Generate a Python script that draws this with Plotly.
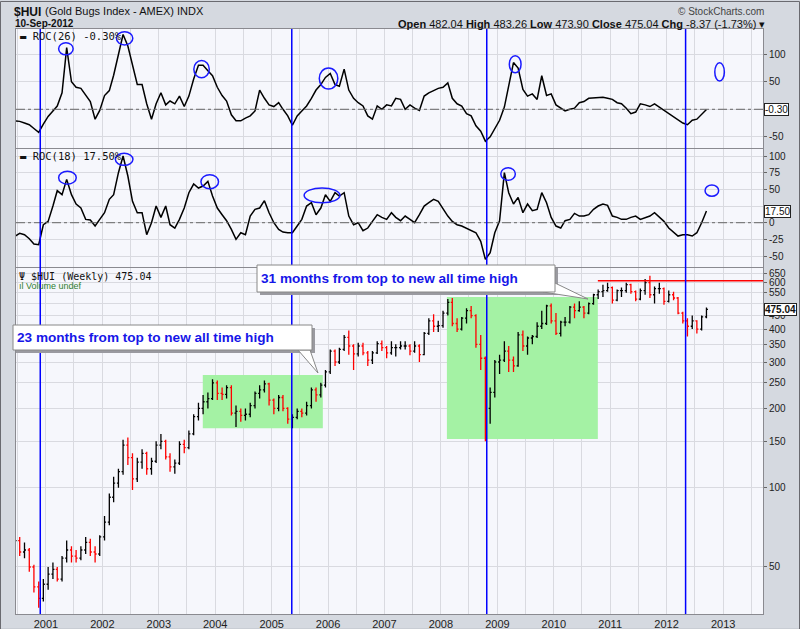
import pandas as pd
import numpy as np
import plotly.graph_objects as go
from plotly.subplots import make_subplots

# ---------------- data (monthly, Jun-2000 .. Sep-2012) ----------------
months = pd.date_range("2000-06-01", periods=148, freq="MS") + pd.Timedelta(days=14)

hui_open = [60, 63, 57, 58, 50, 42, 38,
            43, 47, 49, 45, 54, 58, 55, 54, 58, 62, 57, 56,
            65, 74, 92, 104, 115, 145, 130, 108, 125, 135, 118, 126,
            145, 150, 131, 120, 124, 146, 142, 160, 186, 200, 212, 218,
            250, 228, 226, 240, 192, 195, 188, 190, 205, 228, 235, 248,
            215, 200, 220, 200, 182, 185, 195, 192, 205, 235, 225, 245,
            275, 330, 300, 335, 372, 345, 322, 345, 325, 305, 325, 352,
            340, 325, 340, 340, 345, 345, 330, 345, 320, 385, 430, 410,
            412, 460, 505, 420, 400, 440, 470, 450, 350, 310, 200, 230,
            300, 305, 330, 305, 290, 380, 345, 370, 375, 410, 420, 490,
            430, 385, 425, 425, 485, 470, 485, 460, 500, 540, 555, 560,
            575, 515, 560, 560, 590, 555, 520, 560, 600, 540, 570, 570,
            510, 540, 525, 460, 430, 410, 430, 400, 445]
hui_high = [66, 65, 62, 59, 51, 44, 45,
            50, 52, 50, 55, 63, 60, 58, 60, 65, 64, 60, 66,
            78, 95, 110, 118, 152, 155, 135, 130, 140, 137, 130, 150,
            160, 152, 135, 128, 150, 152, 165, 190, 210, 225, 230, 258,
            255, 240, 245, 245, 205, 200, 200, 210, 232, 245, 255, 250,
            218, 225, 225, 202, 190, 200, 200, 212, 240, 240, 250, 280,
            335, 335, 340, 380, 395, 350, 355, 355, 330, 330, 360, 362,
            345, 360, 350, 360, 360, 350, 360, 350, 390, 440, 455, 430,
            470, 520, 525, 440, 445, 480, 490, 455, 380, 315, 240, 305,
            320, 360, 345, 315, 390, 395, 375, 380, 425, 470, 495, 500,
            460, 430, 445, 490, 500, 510, 490, 505, 545, 565, 590, 600,
            580, 565, 575, 600, 595, 560, 570, 620, 638, 580, 600, 575,
            560, 555, 530, 465, 440, 450, 432, 450, 483.26]
hui_low = [57, 55, 54, 48, 40, 35, 37,
           41, 45, 44, 44, 52, 52, 52, 53, 56, 55, 52, 55,
           63, 72, 88, 100, 112, 122, 98, 105, 118, 112, 112, 124,
           140, 128, 115, 113, 122, 135, 140, 158, 180, 190, 200, 215,
           215, 215, 218, 188, 170, 178, 180, 185, 200, 218, 230, 205,
           190, 195, 195, 175, 168, 182, 185, 188, 200, 212, 220, 240,
           270, 290, 295, 330, 320, 280, 315, 318, 290, 295, 322, 330,
           310, 320, 315, 335, 335, 318, 325, 300, 318, 380, 390, 390,
           405, 450, 410, 390, 395, 420, 440, 340, 280, 150, 175, 220,
           270, 300, 275, 275, 288, 330, 320, 350, 370, 400, 415, 420,
           380, 375, 410, 420, 440, 465, 440, 455, 495, 520, 530, 555,
           500, 510, 530, 550, 545, 510, 515, 540, 525, 500, 545, 495,
           505, 515, 455, 420, 375, 400, 385, 395, 440]
hui_close = [63, 57, 58, 50, 42, 38, 43,
             47, 49, 45, 54, 58, 55, 54, 58, 62, 57, 56, 65,
             74, 92, 104, 115, 145, 130, 108, 125, 135, 118, 126, 145,
             150, 131, 120, 124, 146, 142, 160, 186, 200, 212, 218, 250,
             228, 226, 240, 192, 195, 188, 190, 205, 228, 235, 248, 215,
             200, 220, 200, 182, 185, 195, 192, 205, 235, 225, 245, 275,
             330, 300, 335, 372, 345, 322, 345, 325, 305, 325, 352, 340,
             325, 340, 340, 345, 345, 330, 345, 320, 385, 430, 410, 412,
             460, 505, 420, 400, 440, 470, 450, 350, 310, 200, 230, 300,
             305, 330, 305, 290, 380, 345, 370, 375, 410, 420, 490, 430,
             385, 425, 425, 485, 470, 485, 460, 500, 540, 555, 560, 575,
             515, 560, 560, 590, 555, 520, 560, 600, 540, 570, 570, 510,
             540, 525, 460, 430, 410, 430, 400, 445, 475.04]

roc26 = [-21, -22, -25, -28, -35, -42, -27,
         -13, -3, 6, 30, 112, 50, 40, 38, 26, 14, -18, -2,
         25, 34, 62, 100, 136, 115, 82, 45, 45, 10, -18, 10,
         30, 8, 15, 10, 24, 5, 24, 55, 80, 80, 70, 61,
         40, 25, 15, -10, -21, -21, -16, -12, -3, 35, 20, 8,
         5, 12, 0, -12, -29, -12, -3, 6, 20, 35, 45, 58,
         65, 45, 42, 73, 35, 20, 12, 6, -12, -18, 6, 0,
         8, 6, 20, 18, 0, 8, 2, -2, 24, 30, 34, 38,
         40, 48, 20, 10, 6, -8, -12, -30, -40, -58, -50, -36,
         -20, 4, 40, 85, 75, 36, 24, 28, 18, 61, 25, 28,
         8, 2, -3, 0, 2, 12, 14, 20, 21, 21, 22, 20,
         18, 12, 10, 2, -8, -5, 10, 8, 5, 10, 4, -2,
         -8, -14, -18, -25, -28, -20, -18, -10, -0.3]
roc18 = [-20, -16, -18, -24, -32, -33, -3,
         2, 25, 48, 42, 65, 42, 28, 22, 5, 4, -5, 5,
         15, 35, 42, 75, 100, 70, 32, 15, 15, -18, 0, 25,
         8, 25, -3, -8, 5, 22, 45, 58, 52, 55, 62, 40,
         22, 12, 3, -10, -25, -15, -18, 10, 20, 22, 33, 15,
         0, -10, -14, -15, -15, -5, 5, 25, 30, 12, 22, 42,
         32, 45, 40, 45, 10, -3, 0, -12, -8, 2, 12, 8,
         5, 15, 8, 3, 10, 5, 0, 12, 25, 30, 35, 32,
         20, 10, 2, -3, -5, -8, -12, -15, -28, -55, -45, -15,
         3, 75, 45, 28, 38, 15, 28, 18, 20, 45, 30, 8,
         -5, -8, 3, 5, 14, 10, 10, 12, 20, 25, 28, 26,
         10, 8, 5, 5, 8, 10, 5, 8, 10, 15, 8, 2,
         -8, -14, -20, -18, -18, -20, -15, 0, 17.5]

year_ticks = [f"{y}-01-01" for y in range(2001, 2014)]
year_labels = [str(y) for y in range(2001, 2014)]
half_ticks = [f"{y}-07-01" for y in range(2000, 2014)]

blue_lines = ["2000-11-25", "2005-05-11", "2008-10-24", "2012-05-03"]

# (center date, half width days, center value, half height)
ellipses26 = [("2001-05-10", 47, 110, 11), ("2002-05-25", 53, 129, 12),
              ("2003-10-05", 50, 73, 15.5), ("2006-01-04", 60, 56, 19),
              ("2009-04-26", 38, 82, 15.5), ("2012-12-09", 31, 68, 16.5)]
ellipses18 = [("2001-05-20", 57, 67.5, 9.7), ("2002-05-22", 57, 95, 9),
              ("2003-11-27", 57, 61.5, 10.5), ("2005-11-23", 116, 41, 11.2),
              ("2009-03-11", 47, 73, 9.5), ("2012-10-20", 44, 48, 8.5)]

green_boxes = [("2003-10-13", "2005-11-28", 168, 268),
               ("2008-02-09", "2010-10-13", 153, 530)]
ath_line = ("2010-10-13", "2013-09-16", 610)

X_RANGE = ["2000-06-21", "2013-09-16"]

# ---------------- layout helpers (reference pixel -> paper) ----------------
VS = 642 / 629            # vertical page scale of the capture
W, H = 800, round(629 * VS)
PL, PR, PT, PB = 16, 763, 28, 613          # plot area in reference pixels
L, R = PL, W - PR
T, B = PT * VS, H - PB * VS
PW, PH = PR - PL, PB - PT


def pxx(x):
    return (x - PL) / PW


def pyy(y):
    return (PB - y) / PH


fig = make_subplots(rows=3, cols=1, shared_xaxes=True, vertical_spacing=0.003,
                    row_heights=[119, 118, 346])

fig.add_trace(go.Scatter(x=months, y=roc26, mode="lines",
                         line=dict(color="black", width=1.5), hoverinfo="skip"),
              row=1, col=1)
fig.add_trace(go.Scatter(x=months, y=roc18, mode="lines",
                         line=dict(color="black", width=1.5), hoverinfo="skip"),
              row=2, col=1)
fig.add_trace(go.Ohlc(x=months, open=hui_open, high=hui_high, low=hui_low,
                      close=hui_close,
                      increasing=dict(line=dict(color="black", width=1.3)),
                      decreasing=dict(line=dict(color="#ff0000", width=1.3)),
                      tickwidth=0.35, hoverinfo="skip"),
              row=3, col=1)

grid = "#d9dae0"
axis_font = dict(family="Liberation Sans, Arial", size=10, color="#222")

fig.update_xaxes(range=X_RANGE, tickvals=year_ticks, ticktext=year_labels,
                 showgrid=True, gridcolor=grid, gridwidth=1, ticks="",
                 showline=True, linecolor="#8a8a90", mirror=True,
                 minor=dict(tickvals=half_ticks, showgrid=True, gridcolor=grid),
                 rangeslider=dict(visible=False),
                 tickfont=dict(family="Liberation Sans, Arial", size=11, color="#222"),
                 zeroline=False)

fig.update_layout(
    yaxis=dict(domain=[pyy(147), 1], range=[-70.4, 146], side="right",
               tickvals=[-50, 0, 50, 100], ticktext=["-50", "", "50", "100"]),
    yaxis2=dict(domain=[pyy(266), pyy(148)], range=[-66.4, 110.5], side="right",
                tickvals=[-50, -25, 0, 25, 50, 75, 100],
                ticktext=["-50", "-25", "0", "", "50", "75", "100"]),
    yaxis3=dict(domain=[0, pyy(267)], type="log", range=[1.5205, 2.834], side="right",
                tickvals=[50, 100, 150, 200, 250, 300, 350, 400, 450, 500, 550, 600, 650],
                ticktext=["50", "100", "150", "200", "250", "300", "350", "400", "450",
                          "", "550", "600", "650"]),
)
fig.update_yaxes(showgrid=True, gridcolor=grid, ticks="outside", ticklen=3,
                 tickcolor="#666", tickfont=axis_font, showline=True,
                 linecolor="#8a8a90", mirror=True, zeroline=False)

shapes = []
for yr in ("y", "y2"):
    shapes.append(dict(type="line", xref="paper", x0=0, x1=1, yref=yr, y0=0, y1=0,
                       line=dict(color="#666", width=1, dash="dashdot")))
for x0, x1, y0, y1 in green_boxes:
    shapes.append(dict(type="rect", xref="x3", yref="y3", x0=x0, x1=x1, y0=y0, y1=y1,
                       fillcolor="#a4f2a4", line=dict(width=0), layer="between"))
shapes.append(dict(type="line", xref="x3", yref="y3", x0=ath_line[0], x1=ath_line[1],
                   y0=ath_line[2], y1=ath_line[2], line=dict(color="#ff0000", width=1.6)))
for d in blue_lines:
    shapes.append(dict(type="line", xref="x", yref="paper", x0=d, x1=d, y0=0, y1=1,
                       line=dict(color="#0000ff", width=1.5)))
for specs, yr in ((ellipses26, "y"), (ellipses18, "y2")):
    for c, hw, cy, hh in specs:
        cd = pd.Timestamp(c)
        shapes.append(dict(type="circle", xref="x", yref=yr,
                           x0=cd - pd.Timedelta(days=hw), x1=cd + pd.Timedelta(days=hw),
                           y0=cy - hh, y1=cy + hh,
                           line=dict(color="#1a1aff", width=1.5)))


def callout(x0, y0, x1, y1, tail):
    out = []
    out.append(dict(type="rect", xref="paper", yref="paper",
                    x0=pxx(x0 + 3), x1=pxx(x1 + 3), y0=pyy(y1 + 3), y1=pyy(y0 + 3),
                    fillcolor="#9a9aa0", line=dict(width=0)))
    path = "M {} {} L {} {} L {} {} Z".format(*[v for p in tail for v in (pxx(p[0]), pyy(p[1]))])
    out.append(dict(type="path", xref="paper", yref="paper", path=path,
                    fillcolor="white", line=dict(color="#888", width=1)))
    out.append(dict(type="rect", xref="paper", yref="paper",
                    x0=pxx(x0), x1=pxx(x1), y0=pyy(y1), y1=pyy(y0),
                    fillcolor="white", line=dict(color="#888", width=1)))
    return out


shapes += callout(13, 324, 312, 349, [(298, 349), (318, 372), (310, 349)])
shapes += callout(257, 264, 555, 291, [(543, 291), (588, 298), (555, 282)])
# outer border of the picture
shapes.append(dict(type="rect", xref="paper", yref="paper",
                   x0=pxx(0.5), x1=pxx(799.5), y0=pyy(628.4), y1=pyy(0.5),
                   line=dict(color="#6a6a70", width=1), fillcolor="rgba(0,0,0,0)"))
fig.update_layout(shapes=shapes)

ann = []
blue_txt = dict(family="Liberation Sans, Arial", size=13.6, color="#1616e8")
ann.append(dict(xref="paper", yref="paper", x=pxx(15), y=pyy(336.5), xanchor="left",
                yanchor="middle", text="<b>23 months from top to new all time high</b>",
                showarrow=False, font=blue_txt))
ann.append(dict(xref="paper", yref="paper", x=pxx(259), y=pyy(277.5), xanchor="left",
                yanchor="middle", text="<b>31 months from top to new all time high</b>",
                showarrow=False, font=blue_txt))

mono = "DejaVu Sans Mono, Liberation Mono, monospace"
ann.append(dict(xref="paper", yref="paper", x=pxx(18), y=pyy(35), xanchor="left",
                yanchor="middle", text="▬ ROC(26) -0.30%", showarrow=False,
                font=dict(family=mono, size=10.5, color="#111")))
ann.append(dict(xref="paper", yref="paper", x=pxx(18), y=pyy(155), xanchor="left",
                yanchor="middle", text="▬ ROC(18) 17.50%", showarrow=False,
                font=dict(family=mono, size=10.5, color="#111")))
ann.append(dict(xref="paper", yref="paper", x=pxx(17), y=pyy(275), xanchor="left",
                yanchor="middle", text="Ψ $HUI (Weekly) 475.04", showarrow=False,
                font=dict(family=mono, size=10, color="#111")))
ann.append(dict(xref="paper", yref="paper", x=pxx(17), y=pyy(285), xanchor="left",
                yanchor="middle", text="ıl Volume undef", showarrow=False,
                font=dict(family="Liberation Sans, Arial", size=9, color="#2f7d2f")))

# header
ann.append(dict(xref="paper", yref="paper", x=pxx(12), y=pyy(11), xanchor="left",
                yanchor="middle", text="<b>$HUI</b>", showarrow=False,
                font=dict(family="Liberation Sans Narrow, Liberation Sans, Arial", size=12, color="#111")))
ann.append(dict(xref="paper", yref="paper", x=pxx(43), y=pyy(10), xanchor="left",
                yanchor="middle", text="(Gold Bugs Index - AMEX) INDX", showarrow=False,
                font=dict(family="Liberation Sans, Arial", size=11, color="#111")))
ann.append(dict(xref="paper", yref="paper", x=pxx(13), y=pyy(22.5), xanchor="left",
                yanchor="middle", text="<b>10-Sep-2012</b>", showarrow=False,
                font=dict(family="Liberation Sans, Arial", size=10, color="#111")))
ann.append(dict(xref="paper", yref="paper", x=pxx(766), y=pyy(10), xanchor="right",
                yanchor="middle", text="© StockCharts.com", showarrow=False,
                font=dict(family="Liberation Sans, Arial", size=10, color="#444")))
ann.append(dict(xref="paper", yref="paper", x=pxx(767), y=pyy(22.5), xanchor="right",
                yanchor="middle",
                text="<b>Open</b> 482.04 <b>High</b> 483.26 <b>Low</b> 473.90 "
                     "<b>Close</b> 475.04 <b>Chg</b> -8.37 (-1.73%) ▾",
                showarrow=False, font=dict(family="Liberation Sans, Arial", size=11, color="#111")))

# last-value boxes on right axes
box = dict(bgcolor="white", bordercolor="#222", borderwidth=1, borderpad=0,
           showarrow=False, xanchor="left", yanchor="middle",
           font=dict(family="Liberation Sans, Arial", size=10, color="#111"))
ann.append(dict(xref="paper", yref="y", x=pxx(764), y=roc26[-1], text="-0.30", **box))
ann.append(dict(xref="paper", yref="y2", x=pxx(764), y=roc18[-1], text="17.50", **box))
ann.append(dict(xref="paper", yref="y3", x=pxx(764), y=float(np.log10(hui_close[-1])),
                text="<b>475.04</b>", **box))

BG = "#d5d9e0"
fig.update_layout(
    annotations=ann,
    width=W, height=H,
    margin=dict(l=L, r=R, t=T, b=B),
    paper_bgcolor=BG,
    plot_bgcolor="#f6f7fc",
    showlegend=False,
    font=dict(family="Liberation Sans, Arial"),
)

fig.write_html("out.html", config={"displayModeBar": False},
               post_script="document.body.style.margin='0';"
                           "document.body.style.overflow='hidden';"
                           "document.body.style.background='" + BG + "';"
                           "document.documentElement.style.background='" + BG + "';")
